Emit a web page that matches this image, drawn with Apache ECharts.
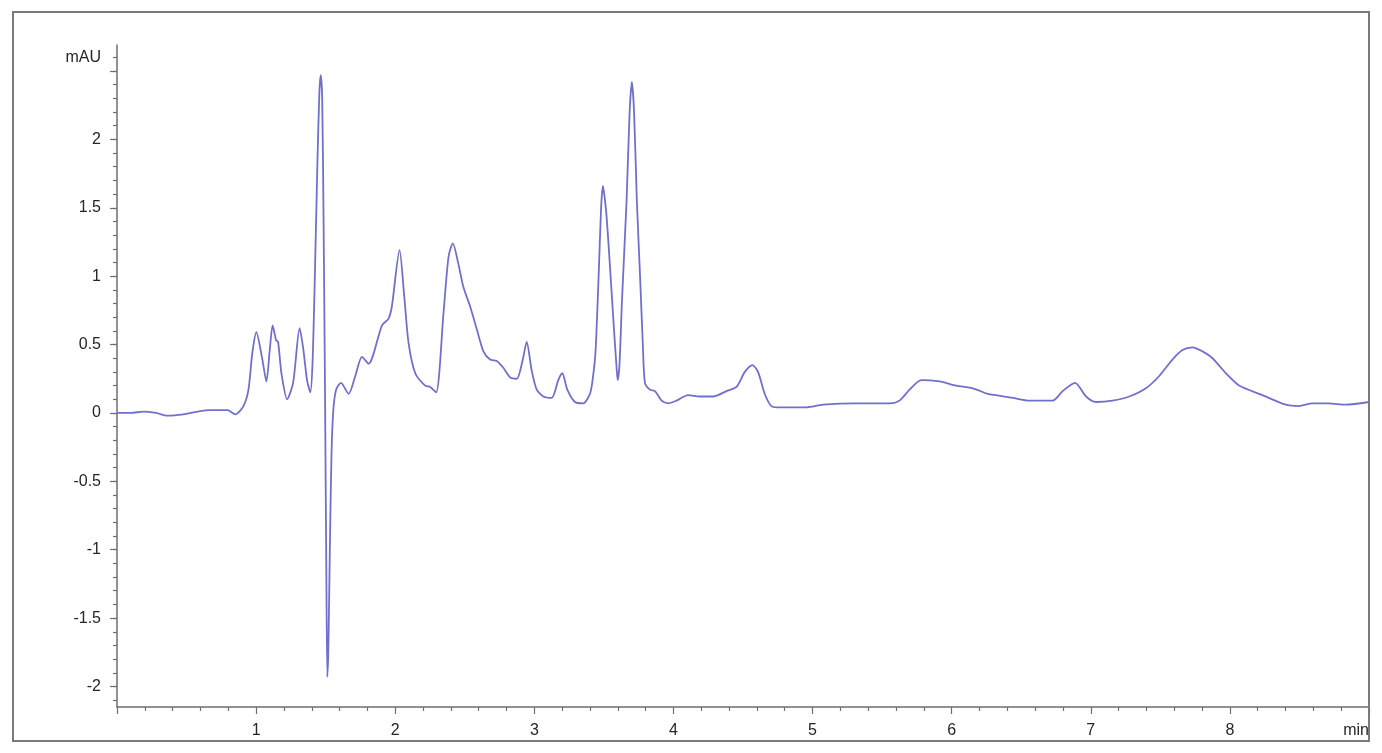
<!DOCTYPE html>
<html>
<head>
<meta charset="utf-8">
<title>Chromatogram</title>
<script src="https://cdn.jsdelivr.net/npm/echarts@6/dist/echarts.min.js"></script>
<style>
  html, body { margin: 0; padding: 0; background: #fff; }
  #main { width: 1382px; height: 753px; }
</style>
</head>
<body>
<div id="main"></div>
<script>
// retention time (min) and signal (mAU)
const times = [
  0, 0.1, 0.19, 0.28, 0.363, 0.478, 0.58, 0.672, 0.794, 0.851,
  0.909, 0.945, 0.973, 1.002, 1.045, 1.074, 1.098, 1.119, 1.144, 1.158,
  1.182, 1.223, 1.266, 1.313, 1.34, 1.366, 1.39, 1.405, 1.42, 1.44,
  1.455, 1.465, 1.475, 1.485, 1.495, 1.505, 1.512, 1.52, 1.53, 1.542,
  1.555, 1.575, 1.61, 1.665, 1.713, 1.761, 1.808, 1.905, 1.952, 1.976,
  2.031, 2.065, 2.096, 2.144, 2.215, 2.251, 2.294, 2.347, 2.383, 2.414,
  2.454, 2.49, 2.538, 2.587, 2.634, 2.682, 2.73, 2.777, 2.826, 2.874,
  2.917, 2.945, 2.981, 3.017, 3.065, 3.125, 3.172, 3.201, 3.237, 3.292,
  3.352, 3.4, 3.42, 3.44, 3.464, 3.48, 3.493, 3.505, 3.52, 3.545,
  3.572, 3.59, 3.599, 3.612, 3.63, 3.663, 3.685, 3.701, 3.717, 3.737,
  3.76, 3.78, 3.795, 3.831, 3.867, 3.915, 3.962, 4.022, 4.106, 4.19,
  4.285, 4.381, 4.453, 4.513, 4.568, 4.608, 4.656, 4.704, 4.776, 4.956,
  5.075, 5.315, 5.554, 5.625, 5.697, 5.781, 5.913, 6.032, 6.152, 6.259,
  6.319, 6.439, 6.559, 6.726, 6.798, 6.887, 6.966, 7.037, 7.157, 7.277,
  7.396, 7.492, 7.587, 7.659, 7.731, 7.803, 7.875, 7.971, 8.066, 8.233,
  8.401, 8.497, 8.592, 8.712, 8.832, 9.0
];
const signal = [
  0, 0.0, 0.01, 0.0, -0.02, -0.01, 0.01, 0.02, 0.02, -0.01,
  0.05, 0.17, 0.44, 0.59, 0.39, 0.23, 0.46, 0.64, 0.53, 0.52,
  0.29, 0.10, 0.22, 0.62, 0.46, 0.24, 0.15, 0.35, 0.9, 1.8,
  2.35, 2.47, 2.3, 1.4, 0.2, -1.2, -1.93, -1.7, -1.0, -0.3,
  0.02, 0.17, 0.22, 0.14, 0.27, 0.41, 0.36, 0.64, 0.69, 0.78,
  1.19, 0.85, 0.51, 0.29, 0.20, 0.19, 0.15, 0.73, 1.14, 1.24,
  1.09, 0.92, 0.78, 0.61, 0.45, 0.39, 0.38, 0.33, 0.26, 0.25,
  0.39, 0.52, 0.31, 0.17, 0.12, 0.11, 0.24, 0.29, 0.17, 0.08,
  0.07, 0.14, 0.25, 0.45, 1.05, 1.5, 1.66, 1.58, 1.43, 1.05,
  0.62, 0.35, 0.24, 0.35, 0.82, 1.55, 2.2, 2.42, 2.2, 1.55,
  1.0, 0.5, 0.22, 0.17, 0.16, 0.09, 0.07, 0.09, 0.13, 0.12,
  0.12, 0.16, 0.19, 0.30, 0.35, 0.30, 0.14, 0.05, 0.04, 0.04,
  0.06, 0.07, 0.07, 0.09, 0.17, 0.24, 0.23, 0.20, 0.18, 0.14,
  0.13, 0.11, 0.09, 0.09, 0.16, 0.22, 0.12, 0.08, 0.09, 0.12,
  0.18, 0.27, 0.39, 0.46, 0.48, 0.45, 0.40, 0.29, 0.20, 0.13,
  0.06, 0.05, 0.07, 0.07, 0.06, 0.08
];

// y axis: labelled values (top one carries the unit), major and minor ticks
const yLabelValues = [-2, -1.5, -1, -0.5, 0, 0.5, 1, 1.5, 2, 2.6];
const yLabelTexts = ['-2', '-1.5', '-1', '-0.5', '0', '0.5', '1', '1.5', '2', 'mAU'];
const yMajorTicks = [-2, -1.5, -1, -0.5, 0, 0.5, 1, 1.5, 2, 2.5];
const yMinorTicks = [
  -2.1, -2.0, -1.9, -1.8, -1.7, -1.6, -1.5, -1.4, -1.3, -1.2, -1.1,
  -1.0, -0.9, -0.8, -0.7, -0.6, -0.5, -0.4, -0.3, -0.2, -0.1,
  0, 0.1, 0.2, 0.3, 0.4, 0.5, 0.6, 0.7, 0.8, 0.9,
  1.0, 1.1, 1.2, 1.3, 1.4, 1.5, 1.6, 1.7, 1.8, 1.9,
  2.0, 2.1, 2.2, 2.3, 2.4, 2.5, 2.6
];
// x axis labels: 0 is blank, the last slot carries the unit
const xLabelTexts = ['', '1', '2', '3', '4', '5', '6', '7', '8', 'min'];

const axisGray = '#6e6e6e';
const labelStyle = {
  color: '#262626',
  fontFamily: 'Liberation Sans, Arial, sans-serif',
  fontSize: 16
};

const chart = echarts.init(document.getElementById('main'), null, { renderer: 'canvas' });

const option = {
  backgroundColor: '#fff',
  animation: false,
  graphic: [{
    type: 'rect',
    shape: { x: 13, y: 12, width: 1356, height: 729 },
    style: { fill: 'none', stroke: '#7a7a7a', lineWidth: 2 },
    z: 100
  }],
  grid: { left: 117, right: 13, top: 45, bottom: 46 },
  xAxis: {
    type: 'value',
    min: 0,
    max: 9,
    interval: 1,
    axisLine: { onZero: false, lineStyle: { color: axisGray, width: 1.5 } },
    axisTick: { length: 7, lineStyle: { color: axisGray, width: 1.2 } },
    minorTick: { show: true, splitNumber: 5, length: 4, lineStyle: { color: axisGray, width: 1.2 } },
    splitLine: { show: false },
    axisLabel: Object.assign({
      margin: 16,
      alignMaxLabel: 'right',
      formatter: v => xLabelTexts[Math.round(v)]
    }, labelStyle)
  },
  yAxis: [{
    type: 'value',
    min: -2.15,
    max: 2.69,
    axisLine: { show: true, onZero: false, lineStyle: { color: axisGray, width: 1.5 } },
    axisTick: { show: true, customValues: yMajorTicks, length: 7, lineStyle: { color: axisGray, width: 1.2 } },
    splitLine: { show: false },
    axisLabel: Object.assign({
      margin: 16,
      customValues: yLabelValues,
      formatter: v => {
        const i = yLabelValues.findIndex(d => Math.abs(d - v) < 1e-6);
        return i >= 0 ? yLabelTexts[i] : '';
      }
    }, labelStyle)
  }, {
    type: 'value',
    min: -2.15,
    max: 2.69,
    position: 'left',
    axisLine: { show: false, onZero: false },
    axisTick: { show: true, customValues: yMinorTicks, length: 4, lineStyle: { color: axisGray, width: 1.2 } },
    axisLabel: { show: false },
    splitLine: { show: false }
  }],
  series: [{
    name: 'signal',
    type: 'line',
    yAxisIndex: 0,
    showSymbol: false,
    smooth: 0.25,
    data: times.map((t, i) => [t, signal[i]]),
    lineStyle: { color: '#7070cc', width: 1.8 }
  }]
};

chart.setOption(option);
</script>
</body>
</html>
